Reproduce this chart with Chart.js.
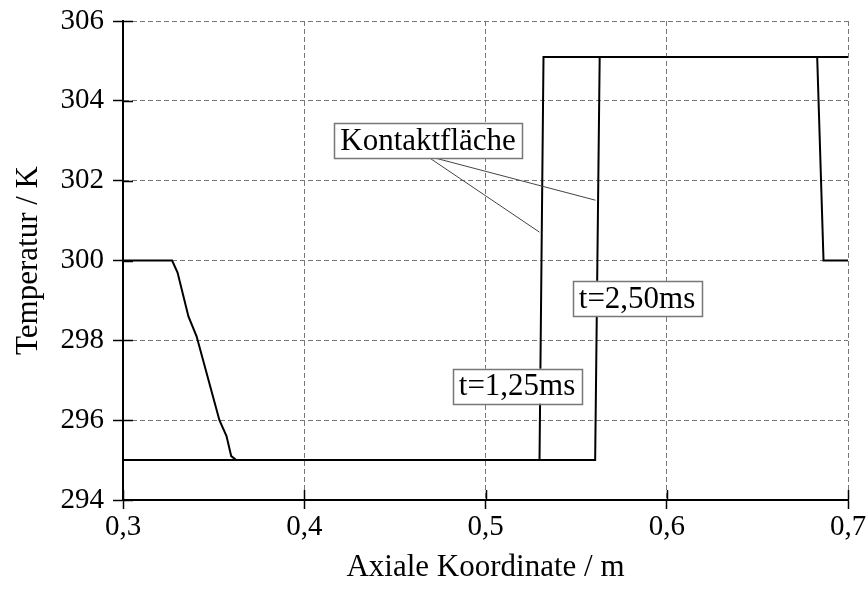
<!DOCTYPE html>
<html>
<head>
<meta charset="utf-8">
<script src="https://cdn.jsdelivr.net/npm/chart.js@4.4.1/dist/chart.umd.min.js"></script>
<style>
  html, body { margin: 0; padding: 0; background: #fff; }
  #wrap { width: 868px; height: 592px; }
</style>
</head>
<body>
<div id="wrap"><canvas id="tempChart" width="868" height="592"></canvas></div>
<script>
  // temperature profiles along the axial coordinate
  var xT1 = [0.30, 0.5298, 0.532, 0.683, 0.6865, 0.70];
  var yT1 = [295.0, 295.0, 305.1, 305.1, 300.0, 300.0];
  var xT2 = [0.30, 0.3271, 0.3301, 0.3361, 0.3406, 0.3532, 0.3571, 0.3597, 0.3625, 0.5605, 0.563, 0.70];
  var yT2 = [300.0, 300.0, 299.7, 298.6, 298.1, 296.0, 295.6, 295.1, 295.0, 295.0, 305.1, 305.1];

  var xTicks = [0.3, 0.4, 0.5, 0.6, 0.7];
  var yTicks = [294, 296, 298, 300, 302, 304, 306];

  // labels in boxes (centre given in data units)
  var noteText = ["Kontaktfläche", "t=2,50ms", "t=1,25ms"];
  var noteX = [0.4683, 0.5836, 0.5174];
  var noteY = [303.0, 299.05, 296.85];

  // leader lines from the "Kontaktfläche" box to both fronts
  var leadX0 = [0.4691, 0.4719];
  var leadY0 = [302.57, 302.57];
  var leadX1 = [0.5298, 0.5607];
  var leadY1 = [300.71, 301.51];

  var serif = "'Liberation Serif', 'Times New Roman', serif";
  var fontSize = 31;
  var tickSize = 29;

  function toPoints(xs, ys) {
    return xs.map(function (x, i) { return { x: x, y: ys[i] }; });
  }

  // short solid tick marks on the inner side of both axes
  var innerTicks = {
    id: 'innerTicks',
    afterDraw: function (chart) {
      var ctx = chart.ctx, xs = chart.scales.x, ys = chart.scales.y;
      var a = chart.chartArea;
      ctx.save();
      ctx.strokeStyle = '#000';
      ctx.lineWidth = 1.5;
      ctx.beginPath();
      yTicks.forEach(function (v) {
        var py = Math.round(ys.getPixelForValue(v)) + 0.5;
        ctx.moveTo(a.left, py);
        ctx.lineTo(a.left + 10, py);
      });
      xTicks.forEach(function (v) {
        var px = Math.round(xs.getPixelForValue(v)) + 0.5;
        ctx.moveTo(px, a.bottom);
        ctx.lineTo(px, a.bottom - 10);
      });
      ctx.stroke();
      ctx.restore();
    }
  };

  // boxed labels and their leader lines
  var notes = {
    id: 'notes',
    afterDatasetsDraw: function (chart) {
      var ctx = chart.ctx, xs = chart.scales.x, ys = chart.scales.y;
      ctx.save();
      ctx.strokeStyle = '#444';
      ctx.lineWidth = 1;
      ctx.beginPath();
      for (var i = 0; i < leadX0.length; i++) {
        ctx.moveTo(xs.getPixelForValue(leadX0[i]), ys.getPixelForValue(leadY0[i]));
        ctx.lineTo(xs.getPixelForValue(leadX1[i]), ys.getPixelForValue(leadY1[i]));
      }
      ctx.stroke();

      ctx.font = fontSize + 'px ' + serif;
      ctx.textAlign = 'center';
      ctx.textBaseline = 'middle';
      noteText.forEach(function (txt, i) {
        var cx = xs.getPixelForValue(noteX[i]);
        var cy = ys.getPixelForValue(noteY[i]);
        var w = ctx.measureText(txt).width + 12;
        var h = 35;
        ctx.fillStyle = '#fff';
        ctx.fillRect(cx - w / 2, cy - h / 2, w, h);
        ctx.strokeStyle = '#777';
        ctx.lineWidth = 1.5;
        ctx.strokeRect(Math.round(cx - w / 2) + 0.5, Math.round(cy - h / 2) + 0.5, Math.round(w), h);
        ctx.fillStyle = '#000';
        ctx.fillText(txt, cx, cy + 1);
      });
      ctx.restore();
    }
  };

  new Chart("tempChart", {
    type: "line",
    data: {
      datasets: [{
        label: "t=1,25ms",
        data: toPoints(xT1, yT1),
        borderColor: "#000",
        borderWidth: 2,
        pointRadius: 0,
        tension: 0,
        fill: false
      }, {
        label: "t=2,50ms",
        data: toPoints(xT2, yT2),
        borderColor: "#000",
        borderWidth: 2,
        pointRadius: 0,
        tension: 0,
        fill: false
      }]
    },
    options: {
      responsive: false,
      animation: false,
      devicePixelRatio: 1,
      layout: { padding: { top: 21, right: 20, left: 0, bottom: 0 } },
      plugins: {
        legend: { display: false },
        tooltip: { enabled: false }
      },
      scales: {
        x: {
          type: "linear",
          min: 0.3,
          max: 0.7,
          afterFit: function (s) {
            s.height = 92;
            s.paddingLeft = 0;
            s.paddingRight = 0;
          },
          afterBuildTicks: function (s) { s.ticks = xTicks.map(function (v) { return { value: v }; }); },
          ticks: {
            color: "#000",
            font: { family: serif, size: tickSize },
            padding: 1,
            maxRotation: 0,
            callback: function (v) { return v.toFixed(1).replace('.', ','); }
          },
          grid: {
            color: "#777",
            tickLength: 9,
            tickColor: "#000",
            tickBorderDash: [],
            tickWidth: 1.5
          },
          border: { display: true, color: "#000", width: 2, dash: [5, 3] },
          title: {
            display: true,
            text: "Axiale Koordinate / m",
            color: "#000",
            font: { family: serif, size: fontSize },
            padding: { top: 0, bottom: 6 }
          }
        },
        y: {
          min: 294,
          max: 306,
          afterFit: function (s) {
            s.width = 123;
            s.paddingTop = 0;
            s.paddingBottom = 0;
          },
          afterBuildTicks: function (s) { s.ticks = yTicks.map(function (v) { return { value: v }; }); },
          ticks: {
            color: "#000",
            font: { family: serif, size: tickSize },
            padding: 9
          },
          grid: {
            color: "#777",
            tickLength: 10,
            tickColor: "#000",
            tickBorderDash: [],
            tickWidth: 1.5
          },
          border: { display: true, color: "#000", width: 2, dash: [5, 3] },
          title: {
            display: true,
            text: "Temperatur / K",
            color: "#000",
            font: { family: serif, size: fontSize },
            padding: { top: 10, bottom: 0 }
          }
        }
      }
    },
    plugins: [innerTicks, notes]
  });
</script>
</body>
</html>
